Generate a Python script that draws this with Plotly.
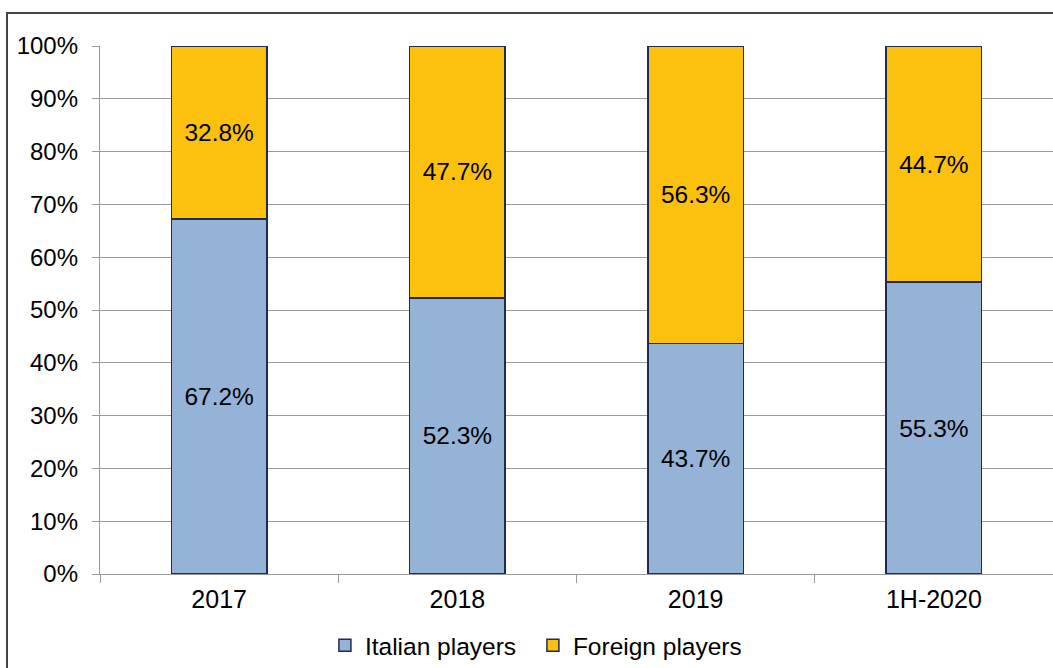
import plotly.graph_objects as go

categories = ["2017", "2018", "2019", "1H-2020"]
italian = [67.2, 52.3, 43.7, 55.3]
foreign = [32.8, 47.7, 56.3, 44.7]
y_ticks = [0, 10, 20, 30, 40, 50, 60, 70, 80, 90, 100]
y_tick_labels = [f"{v}%" for v in y_ticks]

FONT = "Liberation Sans, Arial, Helvetica, sans-serif"
OUTLINE = "#1F2A55"
FS = 24

fig = go.Figure()
fig.add_trace(go.Bar(
    x=categories, y=italian, name="Italian players",
    marker=dict(color="#95B3D7", line=dict(color=OUTLINE, width=1.5)),
    text=[f"{v:.1f}%" for v in italian], textposition="inside",
    insidetextanchor="middle", textfont=dict(size=24.5, color="black", family=FONT),
    constraintext="none", width=0.4,
))
fig.add_trace(go.Bar(
    x=categories, y=foreign, name="Foreign players",
    marker=dict(color="#FCC10F", line=dict(color=OUTLINE, width=1.5)),
    text=[f"{v:.1f}%" for v in foreign], textposition="inside",
    insidetextanchor="middle", textfont=dict(size=24.5, color="black", family=FONT),
    constraintext="none", width=0.4,
))

fig.update_layout(
    barmode="stack",
    width=1053, height=668,
    margin=dict(l=100, r=0, t=46, b=94, autoexpand=False),
    paper_bgcolor="white", plot_bgcolor="white",
    font=dict(family=FONT, size=FS, color="black"),
    showlegend=True,
    legend=dict(orientation="h", x=0.236, y=-0.135, xanchor="left", yanchor="middle",
                font=dict(size=24.5), itemwidth=30, traceorder="normal",
                entrywidth=163, entrywidthmode="pixels",
                bgcolor="rgba(0,0,0,0)"),
)
fig.update_yaxes(
    range=[0, 100], tickvals=y_ticks, ticktext=y_tick_labels,
    showgrid=True, gridcolor="#9A9A9A", gridwidth=1.3,
    showline=True, linecolor="#9A9A9A", linewidth=1.3,
    ticks="outside", ticklen=7, tickcolor="#9A9A9A",
    tickfont=dict(size=24), zeroline=False, ticklabelstandoff=9,
)
fig.update_xaxes(
    range=[-0.5, 3.5], showgrid=False,
    showline=True, linecolor="#9A9A9A", linewidth=1.3,
    ticks="outside", tickson="boundaries", ticklen=8, tickcolor="#9A9A9A",
    tickfont=dict(size=25), ticklabelstandoff=3,
)
# outer chart frame
fig.add_shape(type="rect", xref="paper", yref="paper",
              x0=(7 - 100) / 953, x1=1.02, y0=-0.2, y1=(574 - 13) / 528,
              line=dict(color="#444444", width=2), fillcolor="rgba(0,0,0,0)", layer="below")

fig.write_html("out.html", config={"displayModeBar": False},
               post_script="document.body.style.margin='0';")
